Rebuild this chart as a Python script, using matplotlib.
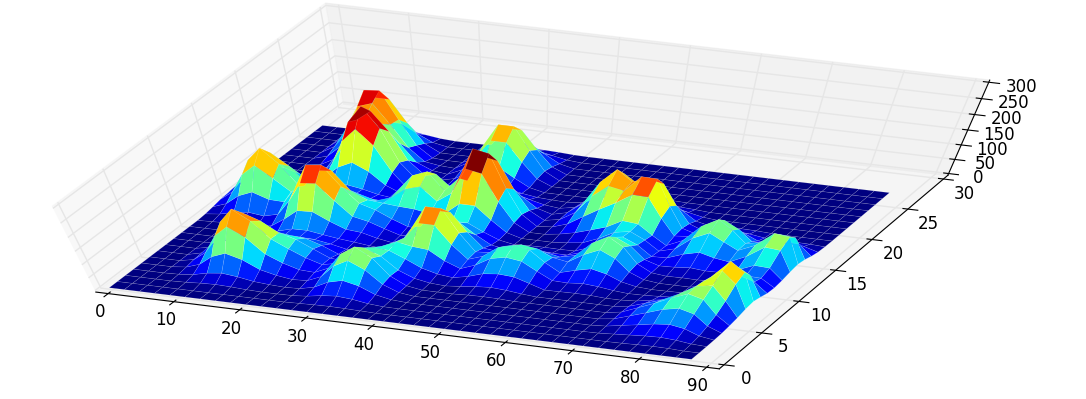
import numpy as np
import matplotlib
matplotlib.use("Agg")
import matplotlib.pyplot as plt
from mpl_toolkits.mplot3d import Axes3D  # noqa

x_grid = np.linspace(-0.5, 87, 39)
y_grid = np.linspace(0, 26.8, 28)

z_rows = [
 [0,0,0,0,0,0,0,0,0,0, 0,0,0,0,0,0,0,0,0,0, 0,0,0,0,0,0,0,0,0,0, 0,0,0,0,0,0,0,0,0],
 [0,0,0,0,0,0,0,0,0,0, 0,0,2,4,5,4,2,0,0,0, 0,0,0,0,0,0,0,0,0,0, 0,0,0,1,3,4,3,0,0],
 [0,0,0,0,2,6,8,6,2,0, 0,1,6,16,21,16,6,1,0,0, 0,0,0,0,0,0,0,0,0,0, 0,1,5,9,13,15,11,3,0],
 [0,0,0,2,8,21,28,21,10,5, 2,4,17,44,58,44,17,4,0,0, 0,0,0,0,0,0,0,0,0,0, 0,4,15,25,36,42,32,10,1],
 [0,0,0,6,24,60,80,63,32,17, 8,11,34,82,110,82,33,8,0,0, 0,0,0,0,0,0,0,0,0,0, 0,8,28,48,69,81,66,25,3],
 [0,0,0,11,46,114,154,123,68,41, 22,19,43,103,137,103,41,10,0,0, 0,3,4,3,0,0,0,0,0,0, 0,10,35,60,89,113,98,45,8],
 [0,0,0,13,57,142,194,159,101,71, 44,25,37,82,110,86,40,15,4,0, 5,12,16,12,5,0,0,0,0,0, 0,8,28,48,79,117,127,75,15],
 [0,0,0,11,46,114,157,136,100,83, 54,26,22,44,88,84,59,31,15,8, 20,38,44,40,22,3,4,5,4,0, 0,4,15,25,57,112,158,115,25],
 [0,0,0,6,24,60,84,77,68,64, 44,18,10,31,69,93,82,77,42,19, 40,72,84,76,45,16,14,19,14,6, 1,2,5,9,39,103,169,135,30],
 [0,0,0,2,8,22,34,38,38,36, 26,13,5,14,54,84,144,144,80,31, 50,90,105,95,55,23,39,52,39,16, 4,0,1,2,24,74,129,100,22],
 [0,0,0,0,2,11,24,39,40,31, 23,17,10,4,30,100,180,180,100,36, 40,72,84,76,50,40,75,100,75,30, 7,0,0,0,11,37,67,50,12],
 [0,2,5,7,5,14,46,83,86,58, 35,30,15,5,27,80,144,144,80,27, 20,38,44,40,28,41,94,125,94,38, 10,4,5,4,7,23,42,40,9],
 [2,8,21,28,21,34,90,158,163,110, 60,48,28,10,12,47,85,85,47,15, 5,12,16,12,12,30,75,100,75,30, 13,15,20,15,16,33,58,55,14],
 [6,24,59,79,59,57,116,198,204,138, 85,68,42,20,18,34,61,61,34,11, 0,3,4,3,4,25,60,78,55,18, 20,41,55,41,33,61,103,98,23],
 [11,45,112,150,112,71,99,158,163,100, 75,70,65,62,52,60,101,101,56,16, 0,0,0,5,12,35,65,75,50,15, 31,78,104,78,53,79,130,123,29],
 [13,56,140,187,140,70,59,83,83,65, 50,68,105,120,75,110,200,190,100,30, 0,0,8,20,37,55,85,80,45,13, 39,98,130,98,56,66,103,98,23],
 [11,45,112,150,112,53,34,40,37,29, 25,75,130,150,90,140,245,235,125,38, 0,5,23,57,90,120,155,153,85,26, 31,78,104,78,40,37,54,51,12],
 [6,24,59,79,62,35,37,44,35,22, 15,55,105,120,75,110,200,190,100,30, 0,10,43,108,150,140,195,193,106,32, 16,41,55,41,19,15,20,19,4],
 [2,8,21,28,28,38,78,101,76,34, 10,18,45,60,45,62,94,94,52,16, 0,13,54,135,185,150,165,155,85,26, 6,15,20,15,7,3,5,4,1],
 [0,2,5,7,18,60,146,192,144,58, 0,6,14,22,20,25,39,34,19,6, 0,10,43,108,150,118,90,82,45,13, 1,4,5,4,1,0,0,0,0],
 [0,0,0,1,21,80,188,244,180,72, 17,0,8,19,29,30,23,13,5,2, 0,5,23,57,76,62,32,29,16,5, 0,0,0,0,0,0,0,0,0],
 [0,0,0,5,30,89,175,209,149,58, 13,0,12,40,71,71,40,12,0,0, 0,0,8,20,27,20,9,7,4,0, 0,0,0,0,0,0,0,0,0],
 [0,0,0,14,54,116,162,148,90,30, 7,0,22,75,135,135,75,22,0,0, 0,0,2,5,7,5,2,0,0,0, 0,0,0,0,0,0,0,0,0],
 [0,0,0,27,93,173,189,126,54,11, 3,0,28,94,168,168,94,28,0,0, 0,0,0,0,0,0,0,0,0,0, 0,0,0,0,0,0,0,0,0],
 [0,0,0,34,113,205,209,122,41,3, 0,0,22,75,135,135,75,22,0,0, 0,0,0,0,0,0,0,0,0,0, 0,0,0,0,0,0,0,0,0],
 [0,0,0,27,90,162,162,90,27,0, 0,0,12,40,71,71,40,12,0,0, 0,0,0,0,0,0,0,0,0,0, 0,0,0,0,0,0,0,0,0],
 [0,0,0,10,35,63,63,35,10,0, 0,0,4,14,25,25,14,4,0,0, 0,0,0,0,0,0,0,0,0,0, 0,0,0,0,0,0,0,0,0],
 [0,0,0,3,10,18,18,10,3,0, 0,0,1,4,6,6,4,1,0,0, 0,0,0,0,0,0,0,0,0,0, 0,0,0,0,0,0,0,0,0],
]

x_ticks = list(range(0, 91, 10))
y_ticks = list(range(0, 31, 5))
z_ticks = list(range(0, 301, 50))

Z = np.array(z_rows, dtype=float)
X, Y = np.meshgrid(x_grid, y_grid)

fig = plt.figure(figsize=(10.86, 3.99), dpi=100)
ax = fig.add_axes([-0.0954, -0.005, 1.13, 1.03], projection="3d")
ax.set_box_aspect((1, 1, 1), zoom=0.9089 * 1.04)
ax.apply_aspect = lambda position=None: ax._set_position(ax.get_position(original=True), "active")
ax.view_init(elev=67, azim=-68.8)

ax.plot_surface(X, Y, Z, rstride=1, cstride=1, cmap="jet", vmin=0, vmax=212,
                linewidth=0.4, edgecolor=(1, 1, 1, 0.18), antialiased=True)

ax.set_xlim(0, 90, view_margin=1/48)
ax.set_ylim(0, 30, view_margin=1/48)
ax.set_zlim(0, 300, view_margin=1/48)
ax.set_xticks(x_ticks)
ax.set_yticks(y_ticks)
ax.set_zticks(z_ticks)
ax.tick_params(labelsize=12, pad=3)
ax.xaxis.set_pane_color((0.95, 0.95, 0.95, 0.5))
ax.yaxis.set_pane_color((0.90, 0.90, 0.90, 0.5))
ax.zaxis.set_pane_color((0.925, 0.925, 0.925, 0.5))
for a in (ax.xaxis, ax.yaxis, ax.zaxis):
    a._axinfo["grid"]["color"] = (0.9, 0.9, 0.9, 1)
    a._axinfo["grid"]["linewidth"] = 1.0
    a._axinfo["tick"]["linewidth"] = {True: 0.8, False: 0.8}

fig.savefig("out.png", dpi=100)
